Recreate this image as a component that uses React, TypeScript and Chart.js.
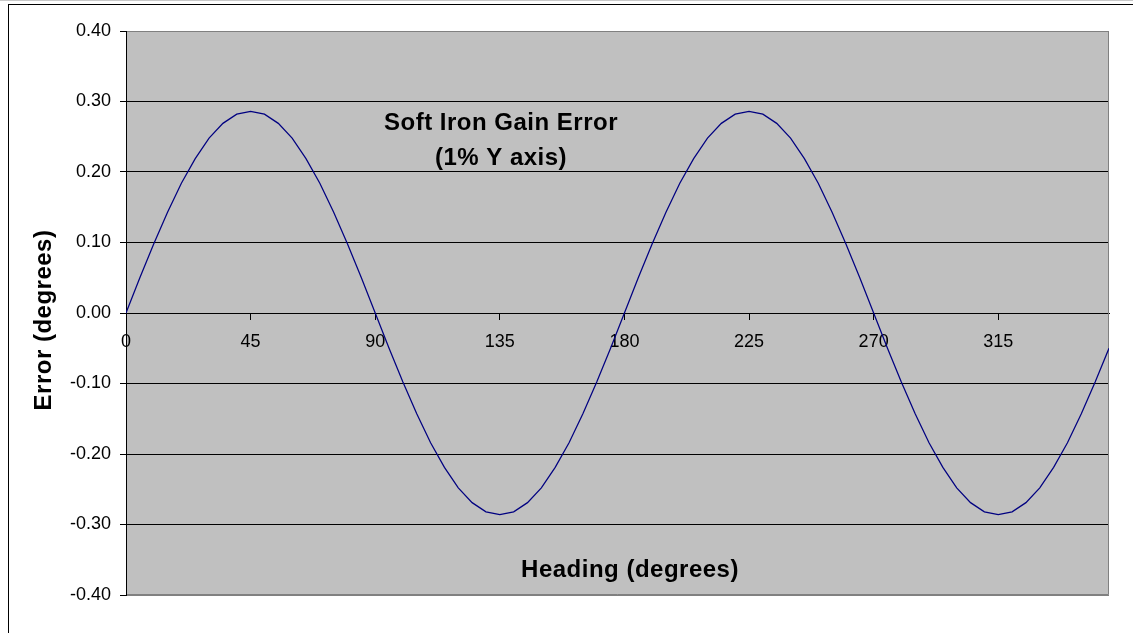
import React, { useEffect, useRef } from "react";
import { Chart, registerables } from "chart.js";

Chart.register(...registerables);

const headings: number[] = [
  0, 5, 10, 15, 20, 25, 30, 35, 40, 45, 50, 55, 60, 65, 70, 75, 80, 85,
  90, 95, 100, 105, 110, 115, 120, 125, 130, 135, 140, 145, 150, 155, 160, 165, 170, 175,
  180, 185, 190, 195, 200, 205, 210, 215, 220, 225, 230, 235, 240, 245, 250, 255, 260, 265,
  270, 275, 280, 285, 290, 295, 300, 305, 310, 315, 320, 325, 330, 335, 340, 345, 350, 355,
];

const errorDegrees: number[] = [
  0, 0.05, 0.098, 0.143, 0.184, 0.219, 0.248, 0.269, 0.282, 0.286, 0.282, 0.269, 0.248, 0.219, 0.184, 0.143, 0.098, 0.05,
  0, -0.05, -0.098, -0.143, -0.184, -0.219, -0.248, -0.269, -0.282, -0.286, -0.282, -0.269, -0.248, -0.219, -0.184, -0.143, -0.098, -0.05,
  0, 0.05, 0.098, 0.143, 0.184, 0.219, 0.248, 0.269, 0.282, 0.286, 0.282, 0.269, 0.248, 0.219, 0.184, 0.143, 0.098, 0.05,
  0, -0.05, -0.098, -0.143, -0.184, -0.219, -0.248, -0.269, -0.282, -0.286, -0.282, -0.269, -0.248, -0.219, -0.184, -0.143, -0.098, -0.05,
];

const xTickValues: number[] = [0, 45, 90, 135, 180, 225, 270, 315];
const titleLines: string[] = ["Soft Iron Gain Error", "(1% Y axis)"];
const xTitle = "Heading (degrees)";
const yTitle = "Error (degrees)";

const FONT = "'Liberation Sans', Arial, Helvetica, sans-serif";

const plotPlugin = {
  id: "plotDecor",
  beforeDraw(chart: any) {
    const { ctx, chartArea: a } = chart;
    ctx.save();
    ctx.fillStyle = "#C0C0C0";
    ctx.fillRect(a.left, a.top, a.right - a.left, a.bottom - a.top);
    ctx.restore();
  },
  beforeDatasetsDraw(chart: any) {
    const { ctx, chartArea: a } = chart;
    ctx.save();
    ctx.strokeStyle = "#808080";
    ctx.lineWidth = 1;
    ctx.beginPath();
    ctx.moveTo(a.left, a.top + 0.5);
    ctx.lineTo(a.right - 0.5, a.top + 0.5);
    ctx.lineTo(a.right - 0.5, a.bottom - 0.5);
    ctx.lineTo(a.left, a.bottom - 0.5);
    ctx.stroke();
    ctx.strokeStyle = "#000";
    ctx.beginPath();
    ctx.moveTo(a.left + 0.5, a.top);
    ctx.lineTo(a.left + 0.5, a.bottom);
    ctx.stroke();
    ctx.restore();
  },
  afterDraw(chart: any) {
    const { ctx } = chart;
    ctx.save();
    ctx.fillStyle = "#000";
    ctx.font = `bold 24px ${FONT}`;
    (ctx as any).letterSpacing = "0.5px";
    ctx.textAlign = "center";
    ctx.textBaseline = "alphabetic";
    ctx.fillText(titleLines[0], 501, 130);
    ctx.fillText(titleLines[1], 501, 165);
    ctx.fillText(xTitle, 630, 577);
    ctx.translate(51, 320);
    ctx.rotate(-Math.PI / 2);
    ctx.fillText(yTitle, 0, 0);
    ctx.restore();
  },
};

export default function App() {
  const canvasRef = useRef<HTMLCanvasElement | null>(null);

  useEffect(() => {
    if (!canvasRef.current) return;
    const chart = new Chart(canvasRef.current, {
      type: "line",
      data: {
        datasets: [
          {
            label: "Error",
            data: headings.map((h, i) => ({ x: h, y: errorDegrees[i] })),
            borderColor: "#000080",
            borderWidth: 1.25,
            pointRadius: 0,
            tension: 0,
            fill: false,
          },
        ],
      },
      options: {
        animation: false,
        responsive: false,
        maintainAspectRatio: false,
        layout: { padding: { left: 0, top: 31, right: 24, bottom: 38 } },
        plugins: {
          legend: { display: false },
          tooltip: { enabled: false },
          title: { display: false },
        },
        scales: {
          x: {
            type: "linear",
            position: { y: 0 } as any,
            min: 0,
            max: 355,
            afterBuildTicks(scale: any) {
              scale.ticks = xTickValues.map((v) => ({ value: v }));
            },
            grid: {
              drawOnChartArea: false,
              drawTicks: true,
              tickLength: 6,
              color: "#000",
              tickColor: "#000",
            },
            border: { display: true, color: "#000", width: 1 },
            ticks: {
              color: "#000",
              font: { family: FONT, size: 18 },
              padding: 12,
              maxRotation: 0,
              autoSkip: false,
              callback: (v: any) => String(v),
            },
          },
          y: {
            type: "linear",
            min: -0.4,
            max: 0.4,
            afterFit(scale: any) {
              scale.width = 126;
            },
            grid: {
              drawTicks: true,
              tickLength: 6,
              color: (c: any) =>
                c.tick && Math.abs(Math.abs(c.tick.value) - 0.4) < 1e-6 ? "#808080" : "#000",
              tickColor: "#000",
              lineWidth: 1,
            },
            border: { display: true, color: "#000", width: 1 },
            ticks: {
              stepSize: 0.1,
              color: "#000",
              font: { family: FONT, size: 18 },
              padding: 9,
              callback: (v: any) => Number(v).toFixed(2),
            },
          },
        },
      },
      plugins: [plotPlugin],
    });
    return () => chart.destroy();
  }, []);

  return (
    <div style={{ position: "fixed", left: 0, top: 0, width: 1133, height: 633, background: "#fff", overflow: "hidden" }}>
      <div style={{ position: "absolute", left: 0, top: 0, width: 1133, height: 1, background: "#c8c8c8" }} />
      <div
        style={{
          position: "absolute",
          left: 8,
          top: 4,
          width: 1300,
          height: 800,
          borderLeft: "1px solid #000",
          borderTop: "1px solid #000",
        }}
      />
      <canvas ref={canvasRef} width={1133} height={633} style={{ position: "absolute", left: 0, top: 0, width: 1133, height: 633 }} />
    </div>
  );
}
